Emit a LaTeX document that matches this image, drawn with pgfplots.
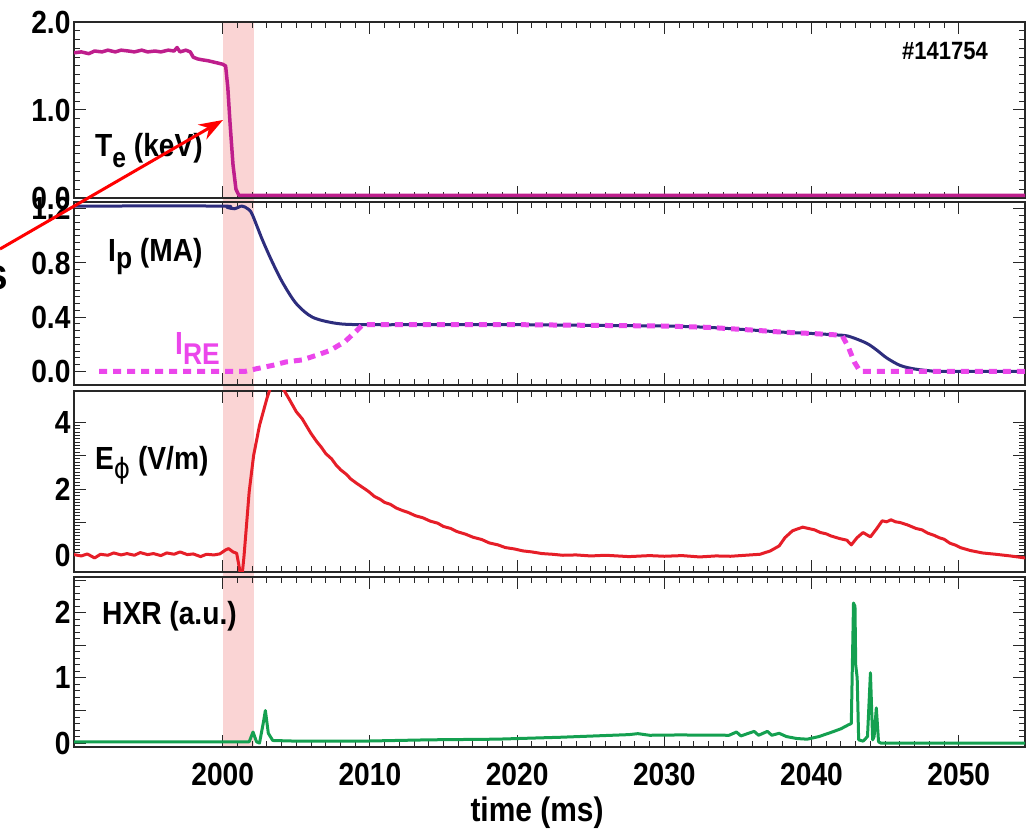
\documentclass[border=0pt]{standalone}
\usepackage{pgfplots}
\pgfplotsset{compat=1.18}
\usepackage{fontspec}
\setmainfont{Liberation Sans}[FakeStretch=0.88]
\setsansfont{Liberation Sans}[FakeStretch=0.88]
\newfontfamily\djv{DejaVu Sans}[FakeStretch=0.88]
\usetikzlibrary{arrows.meta}
\definecolor{tecol}{RGB}{190,30,140}
\definecolor{ipcol}{RGB}{45,45,125}
\definecolor{irecol}{RGB}{235,70,235}
\definecolor{ecol}{RGB}{230,30,40}
\definecolor{hxrcol}{RGB}{20,160,80}
\definecolor{shadecol}{RGB}{240,120,120}
\definecolor{framecol}{RGB}{40,40,40}
\pgfplotsset{
  panel/.style={
    scale only axis, width=951pt, anchor=south west,
    xmin=1989.9, xmax=2054.5,
    xtick={2000,2010,2020,2030,2040,2050}, minor x tick num=9,
    xticklabels={},
    axis line style={line width=1.5pt, framecol},
    every tick/.style={line width=1pt, framecol},
    major tick length=12pt, minor tick length=6pt,
    ticklabel style={font=\bfseries\fontsize{32}{32}\selectfont},
    every axis plot/.append style={line join=round, line cap=round},
  }
}
\begin{document}
\begin{tikzpicture}[x=1pt,y=1pt]
\useasboundingbox (0,0) rectangle (1032,834);
% shaded thermal-quench window
\fill[shadecol, fill opacity=0.32] (222.7,87) rectangle (253.6,812);

% ---------- Panel 1: Te ----------
\begin{axis}[panel, at={(74pt,636pt)}, height=176pt,
  ymin=0, ymax=2.0, ytick={0,1,2}, yticklabels={0.0,1.0,2.0}, minor y tick num=9]
\addplot[tecol, line width=3.5pt] coordinates {
(1989.9,1.65) (1990.4,1.66) (1990.9,1.64) (1991.3,1.67) (1991.8,1.66) (1992.2,1.68)
(1992.7,1.66) (1993.1,1.68) (1993.6,1.67) (1994.0,1.66) (1994.5,1.68) (1994.9,1.66)
(1995.4,1.67) (1995.8,1.66) (1996.3,1.68) (1996.7,1.67) (1996.9,1.71) (1997.1,1.66)
(1997.5,1.68) (1997.8,1.66) (1998.0,1.60) (1998.3,1.58) (1998.6,1.57) (1999.0,1.56)
(1999.5,1.54) (2000.0,1.52) (2000.2,1.50) (2000.35,1.25) (2000.5,0.85) (2000.7,0.38)
(2000.9,0.10) (2001.1,0.03) (2054.5,0.03)};
\end{axis}

% ---------- Panel 2: Ip, IRE ----------
\begin{axis}[panel, at={(74pt,449pt)}, height=183pt,
  ymin=-0.10, ymax=1.25, ytick={0,0.4,0.8,1.2}, yticklabels={0.0,0.4,0.8,1.2}, minor y tick num=7]
\addplot[ipcol, line width=3pt, smooth] coordinates {
(1989.9,1.22) (1999.8,1.22) (2000.3,1.21) (2000.8,1.20) (2001.3,1.22) (2001.7,1.20)
(2002.0,1.16) (2002.7,0.97) (2003.4,0.80) (2004.1,0.65) (2005.0,0.50) (2006.1,0.40)
(2007.7,0.355) (2009.5,0.345) (2015,0.345) (2020,0.345) (2025,0.34) (2030,0.335)
(2033,0.325) (2036,0.305) (2038,0.29) (2040,0.28) (2041.6,0.27) (2042.5,0.26)
(2043.7,0.21) (2044.4,0.16) (2045.1,0.10) (2046.0,0.045) (2046.9,0.02) (2048,0.005)
(2049,0.0) (2054.5,0.0)};
\addplot[irecol, line width=5pt, dash pattern=on 8pt off 6pt, line cap=butt] coordinates {
(1991.6,0.0) (2001.5,0.0) (2002.3,0.02) (2003.4,0.045) (2004.3,0.07) (2005.4,0.085)
(2006.4,0.12) (2007.3,0.155) (2008.3,0.22) (2009.1,0.30) (2009.5,0.345) (2015,0.345)
(2020,0.345) (2025,0.34) (2030,0.335) (2033,0.325) (2036,0.305) (2038,0.29) (2040,0.28)
(2041.6,0.27) (2042.1,0.26) (2042.5,0.18) (2042.9,0.07) (2043.3,0.0) (2054.5,0.0)};
\end{axis}

% ---------- Panel 3: E_phi ----------
\begin{axis}[panel, at={(74pt,262pt)}, height=181pt,
  ymin=-0.48, ymax=4.93, ytick={0,1,2,3,4}, yticklabels={0,,2,,4}, minor y tick num=9]
\addplot[ecol, line width=3pt] coordinates {
(1989.9,0.04) (1990.4,0.00) (1990.8,0.06) (1991.3,-0.06) (1991.7,0.05) (1992.2,0.02)
(1992.6,0.09) (1993.1,0.03) (1993.5,0.07) (1994.0,0.02) (1994.4,0.10) (1994.9,0.04)
(1995.3,0.07) (1995.8,0.01) (1996.2,0.09) (1996.7,0.05) (1997.1,0.12) (1997.6,0.04)
(1998.0,0.06) (1998.5,-0.02) (1998.9,0.05) (1999.4,0.03) (1999.8,0.06) (2000.2,0.18)
(2000.4,0.22) (2000.7,0.12) (2000.95,0.08) (2001.15,-0.4) (2001.27,-0.8) (2001.45,0.0)
(2001.8,1.92) (2002.1,3.0) (2002.5,3.9) (2003.0,4.7) (2003.3,5.1) (2003.8,5.3)
(2004.1,5.0) (2004.5,4.7) (2005.0,4.31) (2005.4,4.10) (2005.7,3.88) (2006.0,3.66)
(2006.4,3.41) (2006.7,3.25) (2007.0,3.06) (2007.4,2.90) (2007.7,2.72) (2008.0,2.58)
(2008.4,2.44) (2008.7,2.30) (2009.1,2.17) (2009.5,2.05) (2009.9,1.93) (2010.3,1.78)
(2010.7,1.69) (2011.0,1.60) (2011.4,1.54) (2011.8,1.43) (2012.2,1.36) (2012.6,1.30)
(2013.1,1.20) (2013.6,1.14) (2014.1,1.04) (2014.6,0.98) (2015.0,0.88) (2015.5,0.82)
(2015.9,0.73) (2016.5,0.65) (2017.0,0.56) (2017.6,0.49) (2018.1,0.39) (2018.7,0.33)
(2019.2,0.25) (2019.8,0.21) (2020.4,0.15) (2021.0,0.12) (2021.7,0.07) (2022.4,0.05)
(2023.1,0.02) (2024.0,0.03) (2025,0.0) (2026,0.02) (2027.6,-0.02) (2029,0.01) (2030,-0.01)
(2031.2,0.01) (2032.4,-0.03) (2033.5,0.0) (2034.5,-0.01) (2035.5,0.02) (2036.5,0.05)
(2037.2,0.15) (2037.8,0.30) (2038.2,0.55) (2038.7,0.75) (2039.0,0.80) (2039.4,0.86)
(2039.8,0.82) (2040.2,0.78) (2040.6,0.70) (2041.0,0.66) (2041.3,0.60) (2041.9,0.52)
(2042.4,0.47) (2042.7,0.33) (2043.1,0.55) (2043.5,0.70) (2043.8,0.62) (2044.0,0.57)
(2044.4,0.80) (2044.8,1.05) (2045.1,1.02) (2045.4,1.08) (2045.7,1.02) (2046.0,1.00)
(2046.5,0.93) (2047.1,0.82) (2047.5,0.78) (2047.9,0.68) (2048.3,0.62) (2048.7,0.54)
(2049.0,0.50) (2049.4,0.38) (2049.8,0.32) (2050.1,0.25) (2050.8,0.16) (2051.6,0.09)
(2052.5,0.05) (2053.5,0.0) (2054.5,-0.06)};
\end{axis}

% ---------- Panel 4: HXR ----------
\begin{axis}[panel, at={(74pt,87pt)}, height=170pt,
  ymin=-0.06, ymax=2.55, ytick={0,0.5,1,1.5,2,2.5}, yticklabels={0,,1,,2,}, minor y tick num=4,
  xticklabels={2000,2010,2020,2030,2040,2050},
  xticklabel style={yshift=-13pt}]
\addplot[hxrcol, line width=3pt] coordinates {
(1989.9,0.02) (1995,0.02) (2000,0.02) (2001.8,0.02) (2002.06,0.17) (2002.3,0.02)
(2002.5,0.0) (2002.75,0.3) (2002.9,0.5) (2003.1,0.15) (2003.4,0.04) (2005,0.03)
(2009.5,0.03) (2014,0.05) (2018.6,0.06) (2023,0.09) (2027.6,0.13) (2028.2,0.145)
(2029,0.12) (2031,0.125) (2034.4,0.12) (2034.9,0.17) (2035.2,0.11) (2036.1,0.18)
(2036.4,0.12) (2037,0.18) (2037.3,0.12) (2037.8,0.15) (2038.3,0.10) (2039,0.07)
(2039.7,0.06) (2040.5,0.10) (2041.4,0.17) (2042.0,0.22) (2042.5,0.28) (2042.7,0.30)
(2042.85,2.15) (2042.95,2.1) (2043.0,1.2) (2043.1,1.0) (2043.2,0.05) (2043.5,0.03)
(2043.8,0.10) (2044.0,1.08) (2044.15,0.05) (2044.25,0.10) (2044.4,0.54) (2044.55,0.02)
(2044.7,0.0) (2054.5,0.0)};
\end{axis}

% ---------- annotations ----------
\begin{scope}[font=\bfseries\fontsize{32}{32}\selectfont]
\node[anchor=base west, inner sep=0] at (95,677)
  {T\raisebox{-11pt}{\fontsize{28}{28}\selectfont e} (keV)};
\node[anchor=base west, inner sep=0] at (108,572)
  {I\raisebox{-7pt}{\fontsize{30}{30}\selectfont p} (MA)};
\node[anchor=base west, inner sep=0, text=irecol] at (175,479)
  {I\raisebox{-10pt}{\fontsize{30}{30}\selectfont RE}};
\node[anchor=base west, inner sep=0] at (95,364)
  {E\raisebox{-9pt}{\fontsize{28}{28}\selectfont\djv\mdseries ϕ} (V/m)};
\node[anchor=base west, inner sep=0] at (102,209) {HXR (a.u.)};
\end{scope}
\node[anchor=base east, inner sep=0, font=\bfseries\fontsize{25}{25}\selectfont] at (988,774) {\#141754};
\node[anchor=base, inner sep=0, font=\bfseries\fontsize{34}{34}\selectfont] at (537,12) {time (ms)};
\node[anchor=base east, inner sep=0, font=\bfseries\fontsize{44}{44}\selectfont] at (8,544) {s};
\draw[red, line width=3pt, -{Stealth[length=24pt,width=17pt]}] (0,585) -- (223,714);
\end{tikzpicture}
\end{document}
